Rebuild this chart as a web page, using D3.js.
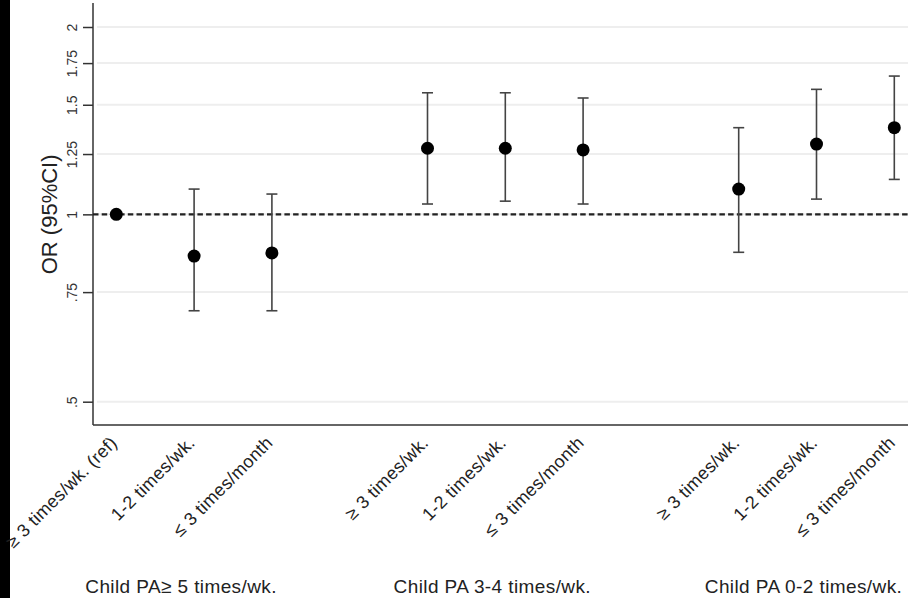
<!DOCTYPE html>
<html><head><meta charset="utf-8">
<script src="https://cdn.jsdelivr.net/npm/d3@7"></script>
<style>
html,body{margin:0;padding:0;background:#fff;}
svg{display:block;}
text{font-family:"Liberation Sans",Arial,sans-serif;}
</style></head>
<body>
<svg id="c" width="908" height="598"></svg>
<script>
// ---- data ----
const positions = [1, 2, 3, 5, 6, 7, 9, 10, 11];
const tickLabels = ["≥ 3 times/wk. (ref)", "1-2 times/wk.", "≤ 3 times/month",
                    "≥ 3 times/wk.", "1-2 times/wk.", "≤ 3 times/month",
                    "≥ 3 times/wk.", "1-2 times/wk.", "≤ 3 times/month"];
const orValues = [1.00, 0.857, 0.867, 1.277, 1.277, 1.269, 1.098, 1.297, 1.378];
const ciLower  = [null, 0.700, 0.700, 1.039, 1.050, 1.039, 0.869, 1.058, 1.138];
const ciUpper  = [null, 1.098, 1.078, 1.568, 1.568, 1.538, 1.378, 1.588, 1.668];
const groupLabels = ["Child PA≥ 5 times/wk.", "Child PA 3-4 times/wk.", "Child PA 0-2 times/wk."];
const groupCenters = [2, 6, 10];
const yTicks = [0.5, 0.75, 1, 1.25, 1.5, 1.75, 2];
const yTickText = [".5", ".75", "1", "1.25", "1.5", "1.75", "2"];
const refValue = 1;

const svg = d3.select("#c");
const W = 908, H = 598;
const axisX = 93, axisTop = 3, axisBottom = 425;

const x = d3.scaleLinear().domain([1, 11]).range([116.3, 894.3]);
const y = d3.scaleLog().domain([0.5, 2]).range([401.7, 27]);

// black strip at left
svg.append("rect").attr("x", 0).attr("y", 0).attr("width", 10).attr("height", H).attr("fill", "#000");

// gridlines
svg.append("g").selectAll("line").data(yTicks).join("line")
  .attr("x1", axisX + 4).attr("x2", W)
  .attr("y1", d => y(d)).attr("y2", d => y(d))
  .attr("stroke", "#eeeeee").attr("stroke-width", 2);

// y axis
const yAxis = d3.axisLeft(y).tickValues(yTicks).tickFormat((d, i) => yTickText[i]).tickSize(10).tickSizeOuter(0);
const gy = svg.append("g").attr("transform", `translate(${axisX},0)`).call(yAxis);
gy.select(".domain").remove();
gy.selectAll(".tick line").attr("stroke", "#333").attr("stroke-width", 1.5);
gy.selectAll(".tick text")
  .attr("x", null).attr("dy", null)
  .attr("transform", "translate(-16,0) rotate(-90)")
  .attr("text-anchor", "middle")
  .attr("dy", "0em")
  .attr("font-size", 14).attr("fill", "#333")
  .style("font-family", "'Liberation Sans',Arial,sans-serif");
svg.append("line").attr("x1", axisX).attr("x2", axisX).attr("y1", axisTop).attr("y2", axisBottom)
  .attr("stroke", "#333").attr("stroke-width", 1.5);

// x axis line
svg.append("line").attr("x1", axisX).attr("x2", W).attr("y1", axisBottom).attr("y2", axisBottom)
  .attr("stroke", "#333").attr("stroke-width", 1.5);

// y axis title
svg.append("text").attr("transform", `translate(57,${y(1)}) rotate(-90)`)
  .attr("text-anchor", "middle").attr("font-size", 22).attr("fill", "#222").text("OR (95%CI)");

// reference dashed line
svg.append("line").attr("x1", axisX).attr("x2", W).attr("y1", y(refValue)).attr("y2", y(refValue))
  .attr("stroke", "#222").attr("stroke-width", 2.2).attr("stroke-dasharray", "5.5,3.2");

// error bars
const ci = positions.map((p, i) => ({p, lo: ciLower[i], hi: ciUpper[i]})).filter(d => d.lo != null);
const eb = svg.append("g").attr("stroke", "#444").attr("stroke-width", 1.6);
eb.selectAll("line.v").data(ci).join("line").attr("class", "v")
  .attr("x1", d => x(d.p)).attr("x2", d => x(d.p)).attr("y1", d => y(d.lo)).attr("y2", d => y(d.hi));
eb.selectAll("line.h").data(ci).join("line").attr("class", "h")
  .attr("x1", d => x(d.p) - 5.5).attr("x2", d => x(d.p) + 5.5).attr("y1", d => y(d.hi)).attr("y2", d => y(d.hi));
eb.selectAll("line.l").data(ci).join("line").attr("class", "l")
  .attr("x1", d => x(d.p) - 5.5).attr("x2", d => x(d.p) + 5.5).attr("y1", d => y(d.lo)).attr("y2", d => y(d.lo));

// points
svg.append("g").selectAll("circle").data(positions).join("circle")
  .attr("cx", d => x(d)).attr("cy", (d, i) => y(orValues[i])).attr("r", 6.5).attr("fill", "#000");

// x tick labels (rotated)
svg.append("g").selectAll("text").data(positions).join("text")
  .attr("transform", d => `translate(${x(d) + 2},${444}) rotate(-45)`)
  .attr("text-anchor", "end").attr("font-size", 18).attr("letter-spacing", 0.3).attr("fill", "#222")
  .text((d, i) => tickLabels[i]);

// group labels
svg.append("g").selectAll("text").data(groupCenters).join("text")
  .attr("x", d => x(d) - 13).attr("y", 593)
  .attr("text-anchor", "middle").attr("font-size", 19).attr("letter-spacing", 0.4).attr("fill", "#222")
  .text((d, i) => groupLabels[i]);
</script>
</body></html>
